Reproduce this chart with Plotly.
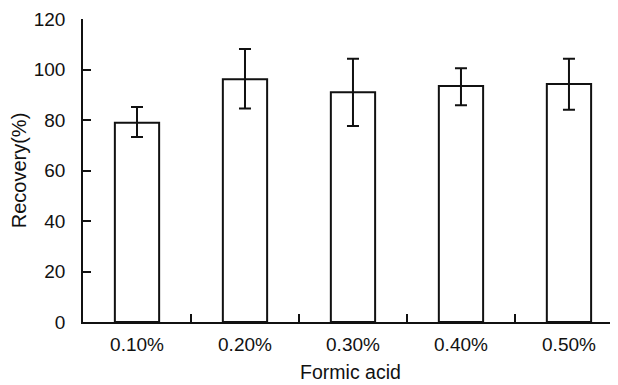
import plotly.graph_objects as go

categories = ["0.10%", "0.20%", "0.30%", "0.40%", "0.50%"]
recovery = [78.9, 96.1, 91.0, 93.5, 94.3]
err_plus = [6.2, 12.0, 13.3, 7.0, 10.0]
err_minus = [5.6, 11.5, 13.4, 7.7, 10.2]
y_ticks = [0, 20, 40, 60, 80, 100, 120]

FONT = "Arial, Liberation Sans, sans-serif"
INK = "#111111"

fig = go.Figure()
fig.add_trace(go.Bar(
    x=categories, y=recovery,
    width=0.41,
    marker=dict(color="white", line=dict(color=INK, width=2)),
    error_y=dict(type="data", symmetric=False, array=err_plus, arrayminus=err_minus,
                 color=INK, thickness=2, width=6),
))

fig.update_layout(
    width=610, height=377,
    margin=dict(l=75, r=0, t=11, b=63),
    paper_bgcolor="white", plot_bgcolor="white",
    showlegend=False,
    font=dict(family=FONT, size=19, color=INK),
    xaxis=dict(
        type="category", range=[-0.5, 4.454],
        showline=True, linecolor=INK, linewidth=1.5,
        ticks="inside", tickson="boundaries", ticklen=8, tickwidth=1.5, tickcolor=INK,
        showgrid=False, zeroline=False,
        ticklabelstandoff=4,
        title=dict(text="Formic acid", font=dict(size=19.5), standoff=12),
    ),
    yaxis=dict(
        range=[0, 120], tickvals=y_ticks,
        showline=True, linecolor=INK, linewidth=1.5,
        ticks="inside", ticklen=8, tickwidth=1.5, tickcolor=INK,
        showgrid=False, zeroline=False,
        ticklabelstandoff=12,
        title=dict(text="Recovery(%)", font=dict(size=20), standoff=7),
    ),
)

fig.write_html("out.html")
